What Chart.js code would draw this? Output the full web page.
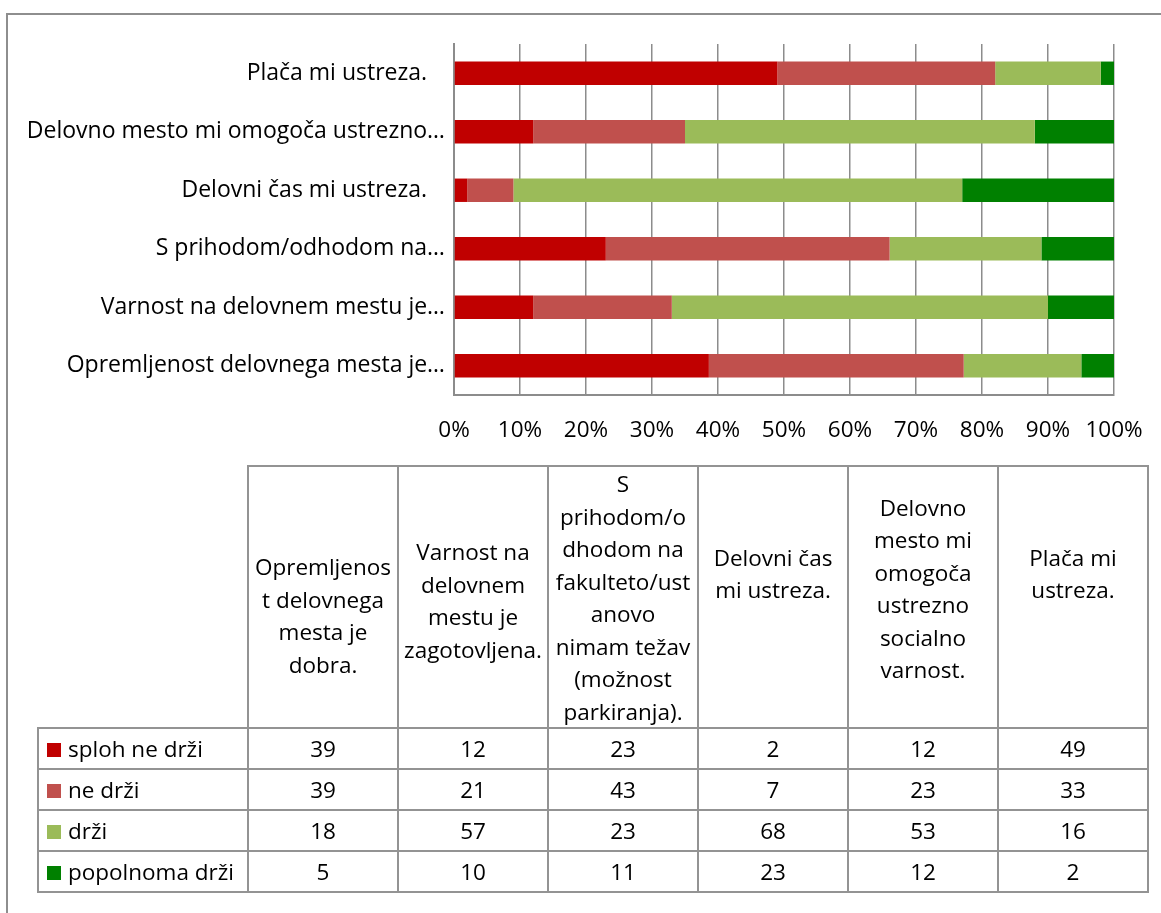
<!DOCTYPE html>
<html>
<head>
<meta charset="utf-8">
<script src="https://cdn.jsdelivr.net/npm/chart.js@4"></script>
<style>
  body { margin: 0; background: #fff; font-family: "Open Sans", sans-serif; }
  #frame { position: absolute; left: 6px; top: 13px; width: 1200px; height: 1000px; border: 2px solid #8e8e8e; }
  #chartBox { position: absolute; left: 0; top: 0; width: 1161px; height: 470px; }
  #tbl { position: absolute; left: 37px; top: 465px; border-collapse: collapse; font-size: 22.5px; color: #000; }
  #tbl td { border: 2px solid #939393; text-align: center; padding: 0; }
  #tbl td.blank { border: none; }
  #tbl tr.head td { height: 259px; line-height: 32.5px; vertical-align: middle; }
  #tbl tr.head td div { position: relative; }
  #tbl tr.row td { height: 39px; }
  #tbl td.name { text-align: left; padding-left: 8px; white-space: nowrap; }
  .mk { display: inline-block; width: 14px; height: 14px; margin-right: 7px; vertical-align: 0px; }
</style>
</head>
<body>
<div id="frame"></div>
<div id="chartBox"><canvas id="c" width="1161" height="470"></canvas></div>
<table id="tbl"></table>
<script>
const categories = [
  'Opremljenost delovnega mesta je dobra.',
  'Varnost na delovnem mestu je zagotovljena.',
  'S prihodom/odhodom na fakulteto/ustanovo nimam težav (možnost parkiranja).',
  'Delovni čas mi ustreza.',
  'Delovno mesto mi omogoča ustrezno socialno varnost.',
  'Plača mi ustreza.'
];
const axisLabels = [
  'Opremljenost delovnega mesta je…',
  'Varnost na delovnem mestu je…',
  'S prihodom/odhodom na…',
  'Delovni čas mi ustreza.\u00a0\u00a0\u00a0',
  'Delovno mesto mi omogoča ustrezno…',
  'Plača mi ustreza.\u00a0\u00a0\u00a0'
];
const headerLines = [
  ['Opremljenos', 't delovnega', 'mesta je', 'dobra.'],
  ['Varnost na', 'delovnem', 'mestu je', 'zagotovljena.'],
  ['S', 'prihodom/o', 'dhodom na', 'fakulteto/ust', 'anovo', 'nimam težav', '(možnost', 'parkiranja).'],
  ['Delovni čas', 'mi ustreza.'],
  ['Delovno', 'mesto mi', 'omogoča', 'ustrezno', 'socialno', 'varnost.'],
  ['Plača mi', 'ustreza.']
];
const seriesNames = ['sploh ne drži', 'ne drži', 'drži', 'popolnoma drži'];
const seriesColors = ['#C00000', '#C0504D', '#9BBB59', '#008000'];
const splohNeDrzi = [39, 12, 23, 2, 12, 49];
const neDrzi = [39, 21, 43, 7, 23, 33];
const drzi = [18, 57, 23, 68, 53, 16];
const popolnomaDrzi = [5, 10, 11, 23, 12, 2];
const xTicks = [0, 10, 20, 30, 40, 50, 60, 70, 80, 90, 100];

// vertical nudge of the header texts (px), like Excel placed them
const headerShift = [19, 4, 1, -23, -8, -23];

const series = [splohNeDrzi, neDrzi, drzi, popolnomaDrzi];
const totals = categories.map((c, i) => series.reduce((s, arr) => s + arr[i], 0));

const FONT = 'Open Sans';
const gridColor = '#8c8c8c';

new Chart(document.getElementById('c'), {
  type: 'bar',
  data: {
    labels: axisLabels,
    datasets: series.map((arr, k) => ({
      label: seriesNames[k],
      data: arr.map((v, i) => v / totals[i] * 100),
      backgroundColor: seriesColors[k],
      borderWidth: 0,
      barPercentage: 0.4,
      categoryPercentage: 1
    }))
  },
  options: {
    indexAxis: 'y',
    responsive: false,
    animation: false,
    layout: { padding: { top: 44, right: 47, left: 0, bottom: 0 } },
    plugins: { legend: { display: false }, tooltip: { enabled: false } },
    scales: {
      x: {
        stacked: true,
        min: 0,
        max: 100,
        afterBuildTicks: s => { s.ticks = xTicks.map(v => ({ value: v })); },
        afterFit: s => { s.height = 75; s.paddingLeft = 0; s.paddingRight = 0; },
        ticks: { callback: v => v + '%', color: '#000', font: { family: FONT, size: 22.5 }, padding: 22, maxRotation: 0 },
        grid: { color: gridColor, lineWidth: 1.5, drawTicks: false },
        border: { display: true, color: gridColor, width: 2 }
      },
      y: {
        stacked: true,
        reverse: true,
        afterFit: s => { s.width = 454; },
        ticks: { color: '#000', font: { family: FONT, size: 23 }, padding: 9 },
        grid: { display: false, drawTicks: false },
        border: { display: true, color: gridColor, width: 2 }
      }
    }
  }
});

// data table under the chart
const tbl = document.getElementById('tbl');
let html = '<tr class="head"><td class="blank" style="width:209px"></td>';
headerLines.forEach((lines, i) => {
  html += '<td style="width:148px"><div style="top:' + headerShift[i] + 'px">' + lines.join('<br>') + '</div></td>';
});
html += '</tr>';
series.forEach((arr, k) => {
  html += '<tr class="row"><td class="name"><span class="mk" style="background:' + seriesColors[k] + '"></span>' + seriesNames[k] + '</td>';
  arr.forEach(v => { html += '<td>' + v + '</td>'; });
  html += '</tr>';
});
tbl.innerHTML = html;
</script>
</body>
</html>
